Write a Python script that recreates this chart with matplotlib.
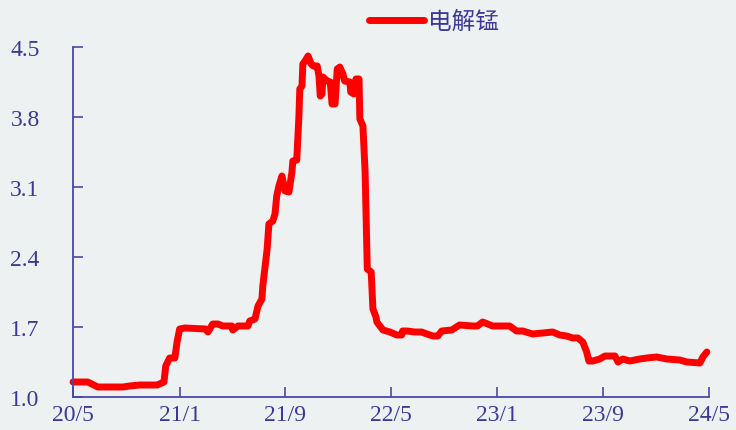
import matplotlib
matplotlib.use("Agg")
import matplotlib.pyplot as plt
import matplotlib.dates as mdates
import pandas as pd

plt.rcParams['font.family'] = ['Liberation Serif', 'Noto Sans CJK SC', 'DejaVu Sans']

series_name = "电解锰"
dates = [
    "2020-05-01", "2020-06-04", "2020-06-27", "2020-08-23", "2020-09-08", "2020-10-01",
    "2020-11-10", "2020-11-21", "2020-11-26", "2020-11-30", "2020-12-09", "2020-12-21",
    "2020-12-26", "2021-01-01", "2021-01-13", "2021-03-02", "2021-03-07", "2021-03-18",
    "2021-03-30", "2021-04-10", "2021-05-01", "2021-05-03", "2021-05-15", "2021-06-07",
    "2021-06-11", "2021-06-23", "2021-06-30", "2021-07-09", "2021-07-11", "2021-07-21",
    "2021-07-25", "2021-08-03", "2021-08-08", "2021-08-12", "2021-08-17", "2021-08-24",
    "2021-08-31", "2021-09-09", "2021-09-16", "2021-09-18", "2021-09-27", "2021-10-02",
    "2021-10-04", "2021-10-09", "2021-10-11", "2021-10-16", "2021-10-23", "2021-10-30",
    "2021-11-04", "2021-11-13", "2021-11-17", "2021-11-20", "2021-11-24", "2021-11-26",
    "2021-12-06", "2021-12-13", "2021-12-17", "2021-12-24", "2021-12-29", "2022-01-04",
    "2022-01-11", "2022-01-15", "2022-01-27", "2022-01-29", "2022-02-05", "2022-02-10",
    "2022-02-17", "2022-02-19", "2022-02-26", "2022-03-03", "2022-03-08", "2022-03-17",
    "2022-03-21", "2022-03-28", "2022-03-30", "2022-04-13", "2022-04-29", "2022-05-15",
    "2022-05-26", "2022-05-28", "2022-06-07", "2022-06-25", "2022-07-11", "2022-07-23",
    "2022-08-06", "2022-08-17", "2022-08-26", "2022-09-18", "2022-10-06", "2022-11-05",
    "2022-11-16", "2022-11-28", "2022-12-21", "2023-01-29", "2023-02-14", "2023-02-28",
    "2023-03-23", "2023-05-08", "2023-05-24", "2023-06-09", "2023-06-23", "2023-07-05",
    "2023-07-16", "2023-07-25", "2023-07-30", "2023-08-08", "2023-08-24", "2023-09-05",
    "2023-09-28", "2023-10-05", "2023-10-16", "2023-11-01", "2023-11-24", "2023-12-10",
    "2024-01-02", "2024-01-25", "2024-02-24", "2024-03-11", "2024-04-10", "2024-04-17",
    "2024-04-26",
]
values = [
    1.15, 1.15, 1.10, 1.10, 1.11, 1.12,
    1.12, 1.14, 1.15, 1.31, 1.39, 1.39,
    1.55, 1.68, 1.69, 1.68, 1.65, 1.73,
    1.73, 1.71, 1.71, 1.67, 1.71, 1.71,
    1.76, 1.78, 1.91, 1.98, 2.11, 2.48,
    2.73, 2.76, 2.83, 3.01, 3.11, 3.21,
    3.06, 3.05, 3.25, 3.36, 3.37, 3.81,
    4.08, 4.11, 4.33, 4.36, 4.41, 4.33,
    4.31, 4.31, 4.21, 4.01, 4.03, 4.20,
    4.16, 4.15, 3.93, 3.93, 4.28, 4.30,
    4.23, 4.16, 4.15, 4.05, 4.03, 4.18,
    4.18, 3.78, 3.71, 3.25, 2.28, 2.25,
    1.88, 1.80, 1.75, 1.67, 1.65, 1.62,
    1.62, 1.66, 1.66, 1.65, 1.65, 1.63,
    1.61, 1.61, 1.66, 1.67, 1.72, 1.71,
    1.71, 1.75, 1.71, 1.71, 1.66, 1.66,
    1.63, 1.65, 1.62, 1.61, 1.59, 1.59,
    1.55, 1.45, 1.36, 1.36, 1.38, 1.41,
    1.41, 1.35, 1.38, 1.36, 1.38, 1.39,
    1.40, 1.38, 1.37, 1.35, 1.34, 1.40,
    1.45,
]
x_tick_dates = ["2020-05-01", "2021-01-01", "2021-09-01", "2022-05-01", "2023-01-01", "2023-09-01", "2024-05-01"]
x_tick_labels = ["20/5", "21/1", "21/9", "22/5", "23/1", "23/9", "24/5"]
y_ticks = [1.0, 1.7, 2.4, 3.1, 3.8, 4.5]
y_tick_labels = ["1.0", "1.7", "2.4", "3.1", "3.8", "4.5"]

text_color = "#3a3a96"
axis_color = "#4848a8"
bg = "#edf1f2"

fig = plt.figure(figsize=(7.36, 4.31), dpi=100, facecolor=bg)
ax = fig.add_axes([73/736, 1-398/431, (709-73)/736, (398-48)/431])
ax.set_facecolor(bg)

x = pd.to_datetime(dates)
ax.plot(x, values, color="#ff0000", lw=5, solid_joinstyle='round', solid_capstyle='round',
        label=series_name, clip_on=False)

ax.set_xlim(pd.Timestamp(x_tick_dates[0]), pd.Timestamp(x_tick_dates[-1]))
ax.set_ylim(y_ticks[0], y_ticks[-1])
ax.set_xticks(pd.to_datetime(x_tick_dates))
ax.set_xticklabels(x_tick_labels)
ax.set_yticks(y_ticks)
ax.set_yticklabels(y_tick_labels)

for s in ["top", "right"]:
    ax.spines[s].set_visible(False)
for s in ["left", "bottom"]:
    ax.spines[s].set_color(axis_color)
    ax.spines[s].set_linewidth(1.3)

ax.tick_params(axis='both', direction='in', length=7, width=1.2, color=axis_color,
               labelcolor=text_color, labelsize=17)
ax.tick_params(axis='y', pad=24)
ax.tick_params(axis='x', pad=5)

leg = fig.legend(loc='center', bbox_to_anchor=(0.59, 0.947), frameon=False,
                 fontsize=17, handlelength=2.3, handletextpad=0.2, labelcolor=text_color)

fig.savefig("out.png", dpi=100, facecolor=bg)
